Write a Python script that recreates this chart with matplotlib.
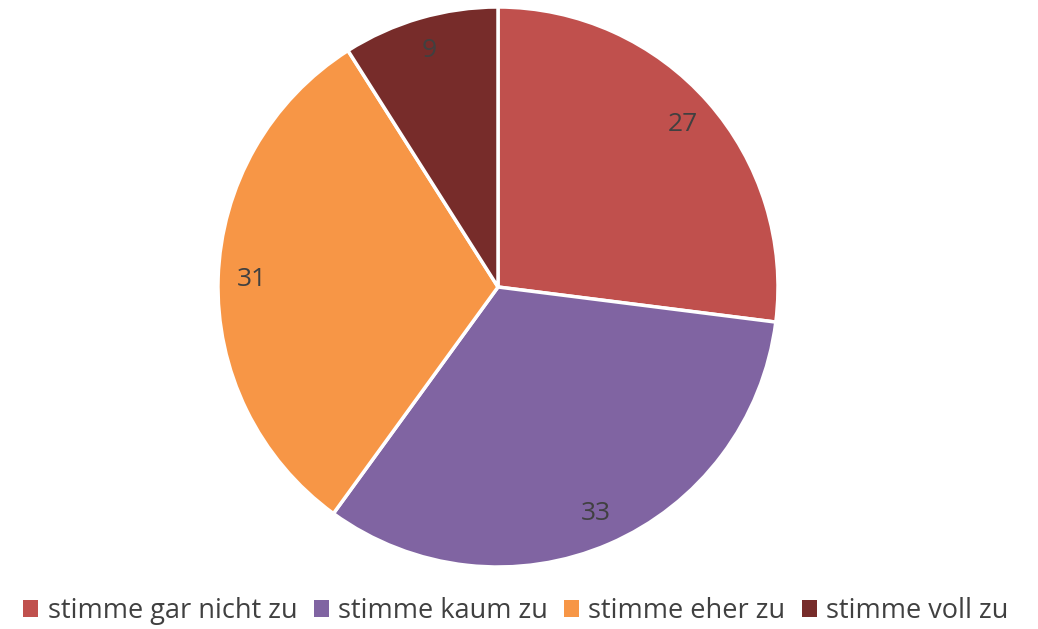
import matplotlib

matplotlib.use("Agg")
import matplotlib.pyplot as plt
from matplotlib.patches import Patch

CATEGORIES = ["stimme gar nicht zu", "stimme kaum zu", "stimme eher zu", "stimme voll zu"]
VALUES = [27, 33, 31, 9]
COLORS = ["#C0504D", "#8064A2", "#F79646", "#772C2A"]
TEXT_COLOR = "#404040"

plt.rcParams["font.family"] = ["Open Sans", "DejaVu Sans"]

W, H = 1038, 629
fig = plt.figure(figsize=(W / 100, H / 100), dpi=100)
cx, cy, r = 498, 287, 280
ax = fig.add_axes([(cx - r) / W, (H - cy - r) / H, 2 * r / W, 2 * r / H])

wedges, texts, autotexts = ax.pie(
    VALUES,
    colors=COLORS,
    startangle=90,
    counterclock=False,
    radius=1.0,
    autopct=lambda p: f"{p * sum(VALUES) / 100:.0f}",
    pctdistance=0.88,
    wedgeprops={"edgecolor": "white", "linewidth": 2.5},
    textprops={"fontsize": 19, "color": TEXT_COLOR},
)
ax.set_xlim(-1, 1)
ax.set_ylim(-1, 1)
ax.set_aspect("equal")
ax.axis("off")

handles = [Patch(facecolor=c, edgecolor="none") for c in COLORS]
fig.legend(
    handles,
    CATEGORIES,
    loc="center",
    bbox_to_anchor=(516 / W, 1 - 611 / H),
    ncol=4,
    frameon=False,
    fontsize=19.5,
    handlelength=0.55,
    handleheight=0.55,
    handletextpad=0.35,
    columnspacing=0.6,
    labelcolor=TEXT_COLOR,
)

fig.savefig("out.png", dpi=100)
